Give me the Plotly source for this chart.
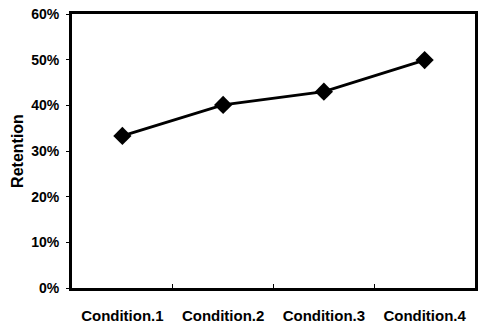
import plotly.graph_objects as go

categories = ["Condition.1", "Condition.2", "Condition.3", "Condition.4"]
retention = [0.333, 0.401, 0.430, 0.499]
y_ticks = [0, 0.1, 0.2, 0.3, 0.4, 0.5, 0.6]
y_tick_labels = ["0%", "10%", "20%", "30%", "40%", "50%", "60%"]

fig = go.Figure(go.Scatter(
    x=categories, y=retention, mode="lines+markers",
    line=dict(color="black", width=3),
    marker=dict(symbol="diamond", size=14, color="black"),
    cliponaxis=False,
))

font_family = "Liberation Sans, Arial, sans-serif"
fig.update_layout(
    width=479, height=328,
    margin=dict(l=72, r=4, t=14, b=40),
    paper_bgcolor="white", plot_bgcolor="white",
    showlegend=False,
    font=dict(family=font_family, color="black"),
)
fig.update_xaxes(
    automargin=False, type="category",
    range=[-0.5, len(categories) - 0.5],
    showline=True, linecolor="black", linewidth=3, mirror=True,
    showgrid=False, ticks="inside", tickson="boundaries", ticklen=4,
    tickcolor="black", tickwidth=1, ticklabelstandoff=12,
    tickfont=dict(size=15, family=font_family, weight="bold"),
)
fig.update_yaxes(
    automargin=False,
    range=[0, 0.6], tickvals=y_ticks, ticktext=y_tick_labels,
    showline=True, linecolor="black", linewidth=3, mirror=True,
    showgrid=False, zeroline=False, ticks="outside", ticklen=3,
    tickcolor="black", tickwidth=1, ticklabelstandoff=4,
    tickfont=dict(size=14, family=font_family, weight="bold"),
    title=dict(text="<b>Retention</b>", font=dict(size=16), standoff=4),
)

fig.write_html(
    "out.html",
    config={"displayModeBar": False},
    post_script="document.body.style.margin='0';document.body.style.overflow='hidden';",
)
